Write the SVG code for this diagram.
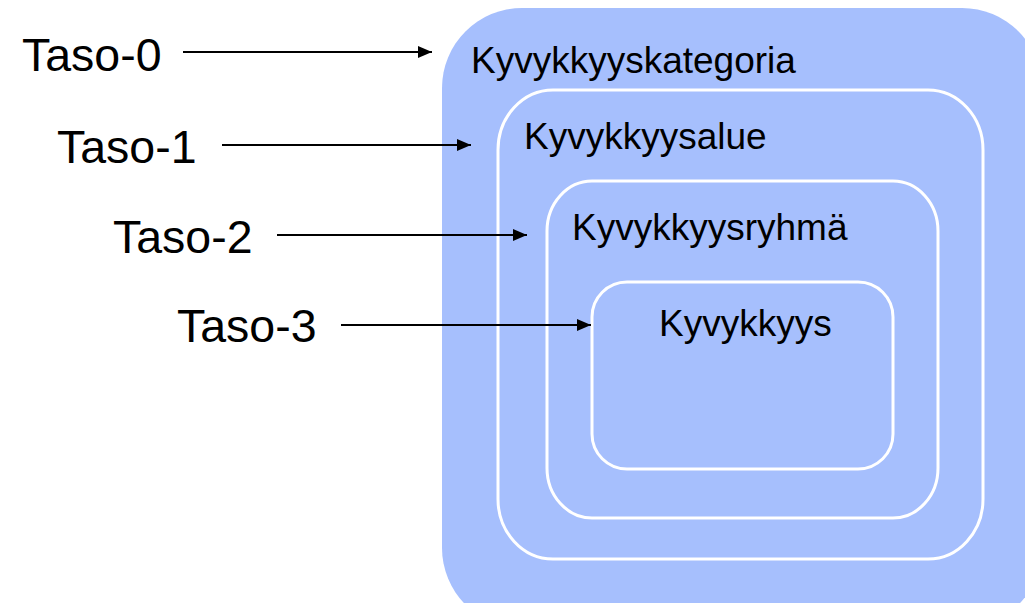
<svg xmlns="http://www.w3.org/2000/svg" width="1025" height="603" viewBox="0 0 1025 603">
<style>
.box{fill:#a6bffd;stroke:#ffffff;stroke-width:3}
.lbl{font-family:"Liberation Sans",Arial,sans-serif;font-size:37px;fill:#000}
.taso{font-family:"Liberation Sans",Arial,sans-serif;font-size:46.5px;fill:#000}
.arr{stroke:#000;stroke-width:2;fill:none;marker-end:url(#ah)}
</style>
<defs>
<marker id="ah" markerWidth="14" markerHeight="12" refX="14" refY="6" orient="auto" markerUnits="userSpaceOnUse">
<path d="M0,0 L14,6 L0,12 Z" fill="#000"/>
</marker>
</defs>
<rect width="1025" height="603" fill="#fff"/>
<g id="taso0-box"><rect x="442" y="8" width="600" height="620" rx="80" ry="80" fill="#a6bffd"/><text class="lbl" x="471" y="73">Kyvykkyyskategoria</text></g>
<g id="taso1-box"><rect class="box" x="498" y="90" width="485" height="469" rx="55" ry="60"/><text class="lbl" x="524" y="149">Kyvykkyysalue</text></g>
<g id="taso2-box"><rect class="box" x="547" y="181" width="391" height="337" rx="45" ry="50"/><text class="lbl" x="572" y="240">Kyvykkyysryhmä</text></g>
<g id="taso3-box"><rect class="box" x="592" y="282" width="301" height="187" rx="35" ry="35"/><text class="lbl" x="659" y="336">Kyvykkyys</text></g>
<g id="taso0"><text class="taso" x="22" y="71">Taso-0</text></g>
<g id="taso1"><text class="taso" x="57" y="163">Taso-1</text></g>
<g id="taso2"><text class="taso" x="113" y="253">Taso-2</text></g>
<g id="taso3"><text class="taso" x="177" y="342">Taso-3</text></g>
<g id="connectors">
<line class="arr" x1="183" y1="52" x2="432" y2="52"/>
<line class="arr" x1="222" y1="145" x2="471" y2="145"/>
<line class="arr" x1="277" y1="235" x2="527" y2="235"/>
<line class="arr" x1="341" y1="325" x2="591" y2="325"/>
</g>
</svg>
